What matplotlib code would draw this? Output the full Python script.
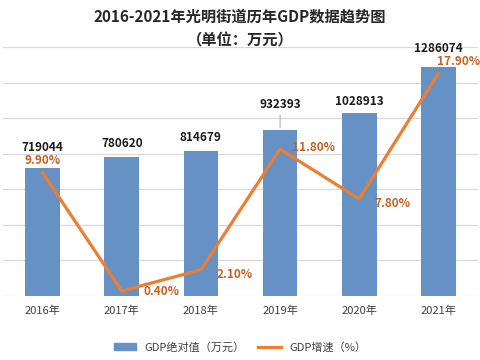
import matplotlib
matplotlib.use('Agg')
import matplotlib.pyplot as plt
from matplotlib.patches import Patch
from matplotlib.lines import Line2D

plt.rcParams['font.family'] = ['Noto Sans CJK SC', 'DejaVu Sans']

years = ['2016年', '2017年', '2018年', '2019年', '2020年', '2021年']
gdp = [719044, 780620, 814679, 932393, 1028913, 1286074]
growth = [9.90, 0.40, 2.10, 11.80, 7.80, 17.90]

bar_color = '#6591C4'
line_color = '#ED7D31'
pct_color = '#C8601E'

fig = plt.figure(figsize=(4.8, 3.6), dpi=100)
ax = fig.add_axes([3 / 480, 0.178, 475 / 480, 0.691])
x = list(range(len(years)))

ax.bar(x, gdp, width=0.44, color=bar_color, zorder=2)
ax.set_xlim(-0.5, 5.5)
ax.set_ylim(0, 1400000)
ax.set_yticks(range(0, 1400001, 200000))
ax.yaxis.grid(True, color='#D9D9D9', lw=0.9, zorder=0)
ax.set_axisbelow(True)
ax.set_xticks(x)
ax.set_xticklabels(years, fontsize=8, color='#404040')
for s in ax.spines.values():
    s.set_visible(False)

# bar value labels (offsets in pixels above the bar top)
bar_offsets = [(0, 21), (0, 14), (0, 14), (0, 26), (0, 12), (0, 19)]
for i, v in enumerate(gdp):
    dx, dy = bar_offsets[i]
    ax.annotate(str(v), (i, v), xytext=(dx, dy), textcoords='offset pixels',
                ha='center', va='center', fontsize=8.5, fontweight='bold',
                color='#1A1A1A', zorder=5)
# leader line for 2019
ax.annotate('', (3, gdp[3]), xytext=(0, 18), textcoords='offset pixels',
            arrowprops=dict(arrowstyle='-', color='#A6A6A6', lw=0.7))

ax2 = ax.twinx()
ax2.set_ylim(0, 20)
ax2.axis('off')
ax2.plot(x, growth, color=line_color, lw=2.3, zorder=4)

# twinx turns the left ticks back on, so hide them afterwards
ax.tick_params(axis='y', left=False, right=False, labelleft=False)
ax.tick_params(axis='x', length=0, pad=7)

pct_offsets = [(0, 12), (40, -1), (34, -5), (33, 2), (33, -5), (20, 12)]
for i, g in enumerate(growth):
    dx, dy = pct_offsets[i]
    ax2.annotate('%.2f%%' % g, (i, g), xytext=(dx, dy), textcoords='offset pixels',
                 ha='center', va='center', fontsize=8.5, fontweight='bold',
                 color=pct_color, zorder=5)

fig.text(0.5, 1 - 17 / 360, '2016-2021年光明街道历年GDP数据趋势图', ha='center',
         va='center', fontsize=11, fontweight='bold', color='#262626')
fig.text(0.5, 1 - 40 / 360, '（单位：万元）', ha='center', va='center',
         fontsize=11, fontweight='bold', color='#262626')

handles = [Patch(color=bar_color), Line2D([0], [0], color=line_color, lw=2.3)]
fig.legend(handles, ['GDP绝对值（万元）', 'GDP增速（%）'], loc='center',
           bbox_to_anchor=(0.5, 1 - 347 / 360), ncol=2, frameon=False,
           fontsize=8, handlelength=2.0, handleheight=0.6, columnspacing=1.2,
           labelcolor='#404040')

fig.savefig('out.png', dpi=100)
